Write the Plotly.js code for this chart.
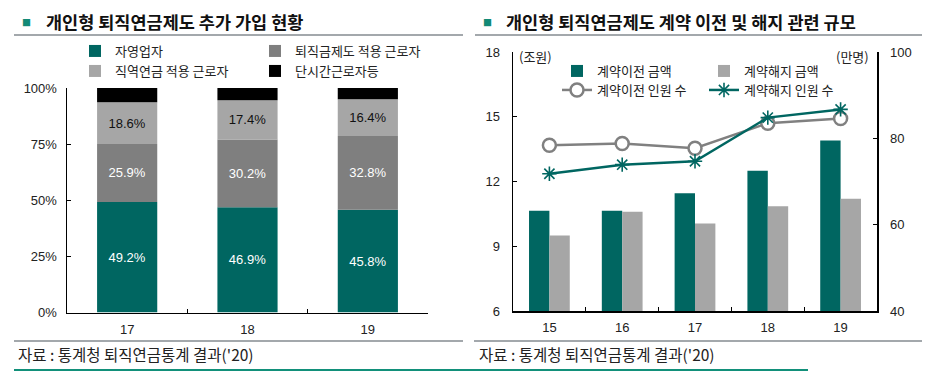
<!DOCTYPE html>
<html><head><meta charset="utf-8">
<script src="https://cdn.plot.ly/plotly-3.0.1.min.js"></script>
<style>html,body{margin:0;padding:0;background:#fff}#chart{width:950px;height:380px}</style>
</head><body><div id="chart"></div>
<script>
// ---- Left chart data (share of new individual retirement pension subscribers, %) ----
const yearsL = ['17', '18', '19'];
const selfEmployed = [49.2, 46.9, 45.8];
const severanceWorkers = [25.9, 30.2, 32.8];
const occupationalWorkers = [18.6, 17.4, 16.4];
const partTimeEtc = [6.3, 5.5, 5.0];
const namesL = ['자영업자', '퇴직금제도 적용 근로자', '직역연금 적용 근로자', '단시간근로자등'];

// ---- Right chart data ----
const yearsR = ['15', '16', '17', '18', '19'];
const transferAmount = [10.65, 10.65, 11.45, 12.5, 13.9];   // 조원
const cancelAmount = [9.5, 10.6, 10.05, 10.85, 11.2];       // 조원
const transferPeople = [78.4, 78.8, 77.7, 83.5, 84.6];      // 만명
const cancelPeople = [71.8, 73.9, 74.7, 84.8, 86.7];        // 만명
const namesR = ['계약이전 금액', '계약해지 금액', '계약이전 인원 수', '계약해지 인원 수'];

const W = 950, H = 380;
const fx = p => p / W;
const fy = p => 1 - p / H;

const TEAL = '#006661', DGRAY = '#7f7f7f', LGRAY = '#a6a6a6', BLACK = '#000000';
const NUMFONT = 'Liberation Sans, Arial, sans-serif';
const KFONT = 'Noto Sans CJK KR, sans-serif';

// stacked bars for left chart via cumulative base
const seriesL = [selfEmployed, severanceWorkers, occupationalWorkers, partTimeEtc];
const colorsL = [TEAL, DGRAY, LGRAY, BLACK];
const textColorsL = ['#ffffff', '#ffffff', '#111111', '#ffffff'];
const traces = [];
let base = yearsL.map(() => 0);
seriesL.forEach((vals, i) => {
  traces.push({
    type: 'bar', x: yearsL, y: vals, base: base.slice(), name: namesL[i],
    xaxis: 'x', yaxis: 'y', offsetgroup: 'L', width: 0.5, offset: -0.25,
    marker: {color: colorsL[i], line: {width: 0}},
    text: i < 3 ? vals.map(v => v.toFixed(1) + '%') : vals.map(() => ''),
    textposition: 'inside', insidetextanchor: 'middle', textangle: 0,
    constraintext: 'none',
    textfont: {family: NUMFONT, size: 13, color: textColorsL[i]},
    legend: i === 0 ? 'legend' : 'legend' + (i + 1),
    hoverinfo: 'skip'
  });
  base = base.map((b, k) => b + vals[k]);
});

traces.push({
  type: 'bar', x: yearsR, y: transferAmount, name: namesR[0], xaxis: 'x2', yaxis: 'y2',
  marker: {color: TEAL}, legend: 'legend5', hoverinfo: 'skip'
});
traces.push({
  type: 'bar', x: yearsR, y: cancelAmount, name: namesR[1], xaxis: 'x2', yaxis: 'y2',
  marker: {color: LGRAY}, legend: 'legend6', hoverinfo: 'skip'
});
traces.push({
  type: 'scatter', mode: 'lines+markers', x: yearsR, y: transferPeople, name: namesR[2],
  xaxis: 'x2', yaxis: 'y3', line: {color: '#808080', width: 2.5},
  marker: {symbol: 'circle', size: 13, color: '#ffffff', line: {color: '#808080', width: 2.5}},
  legend: 'legend7', hoverinfo: 'skip'
});
traces.push({
  type: 'scatter', mode: 'lines+markers', x: yearsR, y: cancelPeople, name: namesR[3],
  xaxis: 'x2', yaxis: 'y3', line: {color: TEAL, width: 2.5},
  marker: {symbol: 'asterisk-open', size: 12, color: TEAL, line: {color: TEAL, width: 1.6}},
  legend: 'legend8', hoverinfo: 'skip'
});

const tickfont = {family: NUMFONT, size: 13, color: '#222'};
const axBase = {
  showgrid: false, zeroline: false, showline: true, linecolor: '#000', linewidth: 1.5,
  ticks: 'inside', ticklen: 4, tickcolor: '#000', tickwidth: 1, tickfont: tickfont,
  fixedrange: true
};

function leg(xpx, ypx) {
  return {x: fx(xpx), y: fy(ypx), xanchor: 'left', yanchor: 'middle', orientation: 'h',
    bgcolor: 'rgba(0,0,0,0)', borderwidth: 0,
    font: {family: KFONT, size: 13, color: '#222'}};
}

const layout = {
  width: W, height: H, margin: {l: 0, r: 0, t: 0, b: 0},
  paper_bgcolor: '#fff', plot_bgcolor: 'rgba(0,0,0,0)',
  font: {family: KFONT, color: '#222'},
  barmode: 'group', bargap: 0.44, bargroupgap: 0,
  showlegend: true,
  xaxis: Object.assign({}, axBase, {domain: [fx(67), fx(428)], anchor: 'y', type: 'category',
    tickson: 'boundaries', ticklabelstandoff: 4}),
  yaxis: Object.assign({}, axBase, {domain: [fy(312.5), fy(88)], anchor: 'x', range: [0, 100],
    dtick: 25, ticksuffix: '%', ticklabelstandoff: 6}),
  xaxis2: Object.assign({}, axBase, {domain: [fx(513), fx(877)], anchor: 'y2', type: 'category',
    tickson: 'boundaries', ticklabelstandoff: 4}),
  yaxis2: Object.assign({}, axBase, {domain: [fy(311), fy(52)], anchor: 'x2', range: [6, 18],
    dtick: 3, ticklabelstandoff: 9}),
  yaxis3: Object.assign({}, axBase, {overlaying: 'y2', side: 'right', anchor: 'x2', range: [40, 100],
    dtick: 20, ticklabelstandoff: 9}),
  legend: leg(75, 51), legend2: leg(255, 51), legend3: leg(75, 71), legend4: leg(255, 71),
  legend5: leg(557, 71), legend6: leg(704, 71), legend7: leg(557, 90), legend8: leg(704, 90),
  shapes: [
    {type: 'line', xref: 'paper', yref: 'paper', x0: fx(14), x1: fx(463), y0: fy(35), y1: fy(35), line: {color: '#a3a8ac', width: 2}},
    {type: 'line', xref: 'paper', yref: 'paper', x0: fx(475), x1: fx(922), y0: fy(35), y1: fy(35), line: {color: '#a3a8ac', width: 2}},
    {type: 'line', xref: 'paper', yref: 'paper', x0: fx(14), x1: fx(463), y0: fy(341), y1: fy(341), line: {color: '#a3a8ac', width: 2}},
    {type: 'line', xref: 'paper', yref: 'paper', x0: fx(474), x1: fx(922), y0: fy(341), y1: fy(341), line: {color: '#a3a8ac', width: 2}},
    {type: 'line', xref: 'paper', yref: 'paper', x0: fx(14), x1: fx(808), y0: fy(370), y1: fy(370), line: {color: '#12907a', width: 2}}
  ],
  annotations: [
    {xref: 'paper', yref: 'paper', x: fx(26), y: fy(23), text: '■', showarrow: false,
      font: {family: KFONT, size: 9, color: '#138a76'}, xanchor: 'center', yanchor: 'middle'},
    {xref: 'paper', yref: 'paper', x: fx(44), y: fy(22), text: '<b>개인형 퇴직연금제도 추가 가입 현황</b>', showarrow: false,
      font: {family: KFONT, size: 17.5, color: '#111'}, xanchor: 'left', yanchor: 'middle'},
    {xref: 'paper', yref: 'paper', x: fx(487), y: fy(23), text: '■', showarrow: false,
      font: {family: KFONT, size: 9, color: '#138a76'}, xanchor: 'center', yanchor: 'middle'},
    {xref: 'paper', yref: 'paper', x: fx(504), y: fy(22), text: '<b>개인형 퇴직연금제도 계약 이전 및 해지 관련 규모</b>', showarrow: false,
      font: {family: KFONT, size: 17.5, color: '#111'}, xanchor: 'left', yanchor: 'middle'},
    {xref: 'paper', yref: 'paper', x: fx(517), y: fy(56), text: '(조원)', showarrow: false,
      font: {family: KFONT, size: 13, color: '#222'}, xanchor: 'left', yanchor: 'middle'},
    {xref: 'paper', yref: 'paper', x: fx(871), y: fy(56), text: '(만명)', showarrow: false,
      font: {family: KFONT, size: 13, color: '#222'}, xanchor: 'right', yanchor: 'middle'},
    {xref: 'paper', yref: 'paper', x: fx(16), y: fy(354), text: "자료 : 통계청 퇴직연금통계 결과('20)", showarrow: false,
      font: {family: KFONT, size: 15.5, color: '#222'}, xanchor: 'left', yanchor: 'middle'},
    {xref: 'paper', yref: 'paper', x: fx(477), y: fy(354), text: "자료 : 통계청 퇴직연금통계 결과('20)", showarrow: false,
      font: {family: KFONT, size: 15.5, color: '#222'}, xanchor: 'left', yanchor: 'middle'}
  ]
};

Plotly.newPlot('chart', traces, layout, {staticPlot: true, displayModeBar: false});
</script>
</body></html>
